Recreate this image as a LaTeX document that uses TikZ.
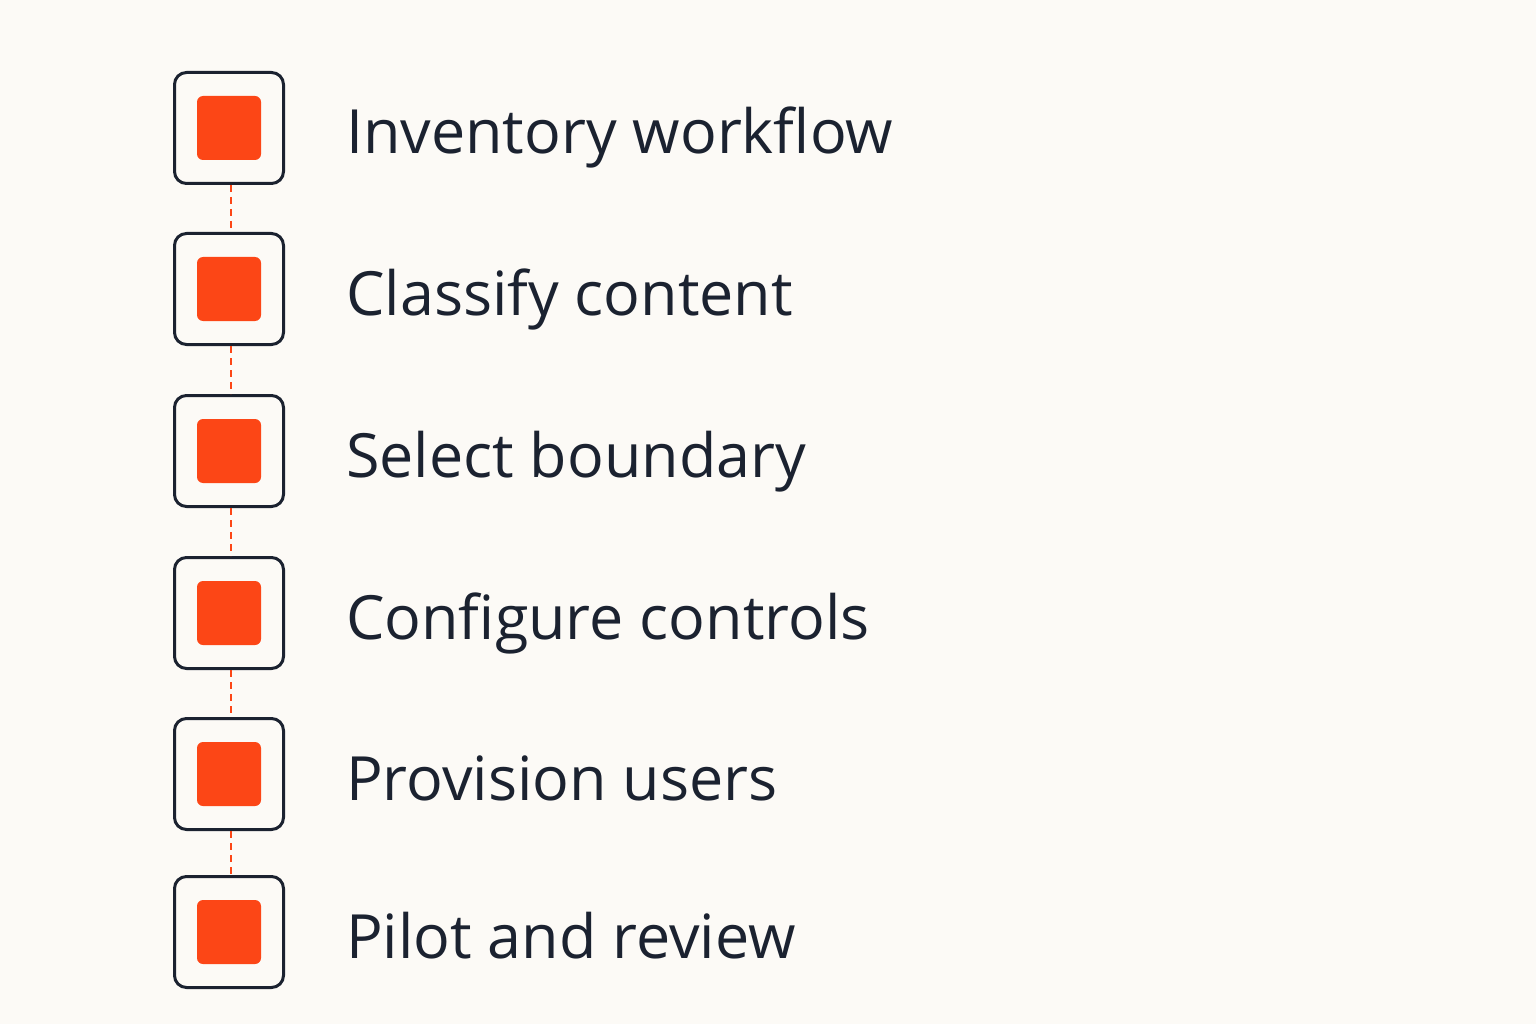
\documentclass[tikz,border=0pt]{standalone}
\usepackage{fontspec}
\setmainfont{Open Sans}
\definecolor{bg}{HTML}{FCFAF6}
\definecolor{ink}{HTML}{1B2230}
\definecolor{acc}{HTML}{FC4616}
\begin{document}
\begin{tikzpicture}[x=1pt,y=-1pt,
  box/.style={draw=ink,line width=3pt,rounded corners=12pt,minimum width=109pt,minimum height=111pt,fill=bg},
  sq/.style={fill=acc,rounded corners=6pt,minimum size=64pt,inner sep=0pt},
  lbl/.style={anchor=base west,text=ink,font=\fontsize{61}{61}\selectfont,inner sep=0pt},
  link/.style={draw=acc,line width=2pt,dash pattern=on 7pt off 5pt}]
\fill[bg] (0,0) rectangle (1536,1024);
\useasboundingbox (0,0) rectangle (1536,1024);
\foreach \i/\y/\t in {1/128/Inventory workflow,2/289/Classify content,3/451/Select boundary,4/613/Configure controls,5/774/Provision users,6/932/Pilot and review}{
  \node[box] (b\i) at (229,\y) {};
  \node[sq] (s\i) at (229,\y) {};
  \node[lbl] (t\i) at (346,\y+26) {\t};
}
\foreach \a/\b in {1/2,2/3,3/4,4/5,5/6}{
  \draw[link] ([xshift=2pt]b\a.south) -- ([xshift=2pt]b\b.north);
}
\end{tikzpicture}
\end{document}
